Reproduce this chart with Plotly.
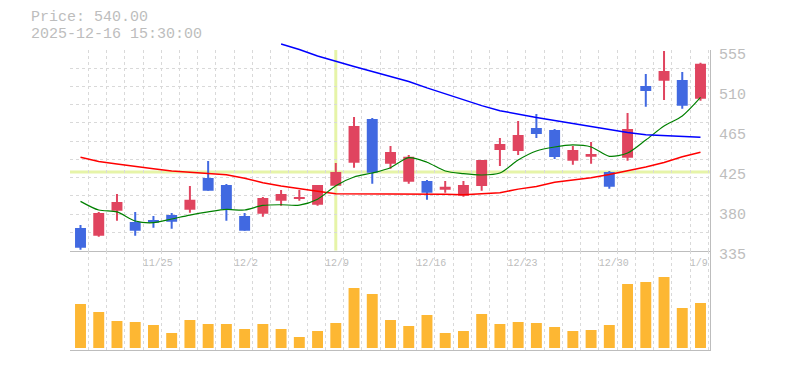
import plotly.graph_objects as go

# ---------------- data ----------------
dates = ["11/18", "11/19", "11/20", "11/21", "11/25", "11/26", "11/27", "11/28",
         "12/1", "12/2", "12/3", "12/4", "12/5", "12/8", "12/9", "12/10", "12/11",
         "12/12", "12/15", "12/16", "12/17", "12/18", "12/19", "12/22", "12/23",
         "12/24", "12/25", "12/26", "12/29", "12/30", "1/5", "1/6", "1/7", "1/8", "1/9"]

opens = [360, 351.5, 378.9, 366.5, 368.7, 374.1, 379.9, 414.7, 407, 373, 375.6, 389.8,
         391.7, 385.4, 406.3, 431.5, 479.4, 430.4, 410.6, 411.4, 401.9, 395.3, 405.9,
         445.4, 444.3, 469.5, 467.3, 433.7, 438, 421.3, 437, 515.5, 521.3, 522.1, 501.6]
closes = [338.3, 376.3, 388.4, 356.9, 365.7, 366.8, 390.9, 400.8, 380.4, 356.9, 392.8,
          397.2, 393.9, 407, 421.3, 471.7, 420.5, 443.2, 438, 398.6, 405.2, 407, 434.4,
          452, 461.8, 462.9, 437.7, 445.4, 441, 405.2, 468.4, 510.1, 532, 493.9, 540]
highs = [363.2, 377.4, 397.2, 377.4, 373, 376.3, 405.9, 433.3, 408, 376.3, 393.9, 401.5,
         401.5, 407, 431.1, 481.6, 480.5, 449.8, 439.9, 412.5, 411.4, 411.4, 434.4, 458.5,
         477.2, 484.8, 468.4, 449.8, 454.2, 422.4, 485.9, 528.7, 553.9, 530.9, 541]
lows = [336.1, 350.4, 367.9, 351.5, 360.2, 359.1, 376.7, 400.8, 367.9, 356.9, 372.3,
        384.3, 389.8, 384.3, 406.3, 426, 408.4, 424.9, 408.4, 390.9, 398.6, 394.2, 400.8,
        427.9, 439.9, 458.5, 435.5, 429.3, 430.4, 403, 433.7, 492.8, 500.2, 490.7, 499.4]

volumes = [176000, 144000, 108000, 104000, 92000, 60000, 112000, 96000, 96000, 76000,
           96000, 76000, 44000, 68000, 100000, 240000, 216000, 112000, 88000, 132000,
           60000, 68000, 136000, 96000, 104000, 100000, 84000, 68000, 72000, 92000,
           256000, 264000, 284000, 160000, 180000]

ma_short = [389.1, 379.6, 377.5, 367.6, 365.7, 369.8, 374.1, 377.5, 380.2, 379.6, 384.6,
            385.4, 385, 391.5, 406.3, 415.8, 420.2, 426, 437, 432, 422.4, 419.5, 418,
            420.2, 434.4, 444.3, 448.7, 450.9, 448.7, 438.5, 442.1, 456.3, 471.7, 482.7, 503]
ma_mid = [437.4, 432.8, 430, 427.8, 424.9, 422.5, 421.3, 420.3, 418.3, 414.5, 409.5,
          406, 402.8, 400.3, 397.5, 397.5, 397, 397, 397.3, 397, 396.8, 396.3, 397.2,
          398.6, 402.5, 405.5, 410, 412.4, 415, 418.5, 422.4, 426.8, 431.8, 437.9, 443]
ma_long = [None] * 11 + [561.5, 555.5, 548.5, 542.5, 537, 531.5, 526, 520.5, 513.5, 507,
                         500, 494, 488.5, 484.5, 481, 477.8, 474.5, 471, 467.5, 464.5,
                         462, 461, 460, 459.3]

label_dates = ["11/25", "12/2", "12/9", "12/16", "12/23", "12/30", "1/9"]
price_ticks = [555, 511, 467, 423, 379, 335]
price_tick_text = ["555", "510", "465", "425", "380", "335"]
cross_date = "12/9"
info_time = "2025-12-16 15:30:00"

# ---------------- styling ----------------
UP = "#e0445f"
DOWN = "#4169e1"
VOL = "#fdb733"
GRID = "#d9d9d9"
AXIS = "#bdbdbd"
TXT = "#bdbdbd"
FONT = "Liberation Mono"
CROSS = "#e6f4a8"

idx = list(range(len(dates)))
colors = [UP if c >= o else DOWN for o, c in zip(opens, closes)]
body_base = [min(o, c) for o, c in zip(opens, closes)]
body_h = [max(abs(c - o), 0.8) for o, c in zip(opens, closes)]
wick_h = [h - l for h, l in zip(highs, lows)]

xr = [-0.5758, 34.521]
pb, pt = 0.3203, 0.9677

fig = go.Figure()
fig.add_trace(go.Bar(x=idx, y=wick_h, base=lows, width=0.11, marker=dict(color=colors, line_width=0),
                     xaxis="x", yaxis="y", hoverinfo="skip", showlegend=False))
fig.add_trace(go.Bar(x=idx, y=body_h, base=body_base, width=0.6, marker=dict(color=colors, line_width=0),
                     xaxis="x", yaxis="y", hoverinfo="skip", showlegend=False))
fig.add_trace(go.Scatter(x=idx, y=ma_mid, mode="lines", line=dict(color="#ff0000", width=1.5),
                         xaxis="x", yaxis="y", showlegend=False))
fig.add_trace(go.Scatter(x=idx, y=ma_short, mode="lines",
                         line=dict(color="#008000", width=1.2, shape="spline", smoothing=0.8),
                         xaxis="x", yaxis="y", showlegend=False))
fig.add_trace(go.Bar(x=idx, y=volumes, width=0.6, marker=dict(color=VOL, line_width=0),
                     xaxis="x2", yaxis="y2", showlegend=False))
fig.add_trace(go.Scatter(x=idx, y=ma_long, mode="lines", line=dict(color="#0000ff", width=1.5),
                         xaxis="x3", yaxis="y3", showlegend=False))
fig.add_trace(go.Scatter(x=[None], y=[None], mode="lines", xaxis="x3", yaxis="y4",
                         showlegend=False, hoverinfo="skip"))

ci = dates.index(cross_date)
fig.add_shape(type="line", xref="x", yref="y", x0=ci, x1=ci, y0=335, y1=555,
              line=dict(color=CROSS, width=3), layer="below")
fig.add_shape(type="line", xref="x", yref="y", x0=xr[0], x1=xr[1], y0=closes[ci], y1=closes[ci],
              line=dict(color=CROSS, width=3), layer="below")

minor_grid = dict(tickmode="linear", tick0=-0.57, dtick=1, showgrid=True, gridcolor=GRID,
                  griddash="3px,3px", gridwidth=1, ticks="")

# date labels are left-aligned in the reference: pad to equal width (monospace) and centre
tick_text = [d.ljust(5, "\u00a0") for d in label_dates]
tick_vals = [dates.index(d) + 0.236 for d in label_dates]

# the page body has an 8px default margin, so the figure is 8px smaller and shifted
fig.update_layout(
    width=777, height=362,
    margin=dict(l=62, r=75, t=32, b=20, autoexpand=False),
    paper_bgcolor="white", plot_bgcolor="rgba(0,0,0,0)",
    barmode="overlay", showlegend=False,
    xaxis=dict(domain=[0, 1], range=xr, anchor="y", showline=True, linecolor=AXIS, linewidth=1,
               showgrid=False, zeroline=False, tickmode="array", automargin=False,
               tickvals=tick_vals, ticktext=tick_text, ticklabelstandoff=2,
               ticks="", tickfont=dict(family=FONT, size=10, color=TXT), minor=minor_grid),
    xaxis2=dict(domain=[0, 1], range=xr, anchor="y2", showline=True, linecolor=AXIS, linewidth=1,
                showgrid=False, zeroline=False, showticklabels=False, ticks="", minor=minor_grid,
                automargin=False),
    xaxis3=dict(domain=[0, 1], range=xr, anchor="y3", visible=False, automargin=False),
    yaxis=dict(domain=[pb, pt], range=[335, 555], anchor="x", side="right", showline=True,
               linecolor=AXIS, linewidth=1, showticklabels=False, ticks="", tickmode="linear",
               tick0=335, dtick=20, showgrid=True, gridcolor=GRID, griddash="3px,3px",
               zeroline=False, automargin=False),
    yaxis2=dict(domain=[0, pb], range=[-8000, 389200], anchor="x2", side="right", showline=True,
                linecolor=AXIS, linewidth=1, showgrid=False, showticklabels=False, ticks="",
                zeroline=False, automargin=False),
    yaxis3=dict(domain=[0, 1], range=[226.15, 565.96], anchor="x3", visible=False, automargin=False),
    yaxis4=dict(domain=[0, 1], range=[229.77, 569.58], anchor="x3", side="right",
                tickmode="array", tickvals=price_ticks, ticktext=price_tick_text,
                showgrid=False, showline=False, zeroline=False, ticks="", automargin=False,
                ticklabelstandoff=8, tickfont=dict(family=FONT, size=15, color=TXT)),
)

fig.add_annotation(xref="paper", yref="paper", x=0, y=1, xshift=-41, yshift=22.5,
                   xanchor="left", yanchor="middle", showarrow=False,
                   text=f"Price: {closes[-1]:.2f}", font=dict(family=FONT, size=15, color=TXT))
fig.add_annotation(xref="paper", yref="paper", x=0, y=1, xshift=-41, yshift=6,
                   xanchor="left", yanchor="middle", showarrow=False,
                   text=info_time, font=dict(family=FONT, size=15, color=TXT))

fig.write_html("out.html")
